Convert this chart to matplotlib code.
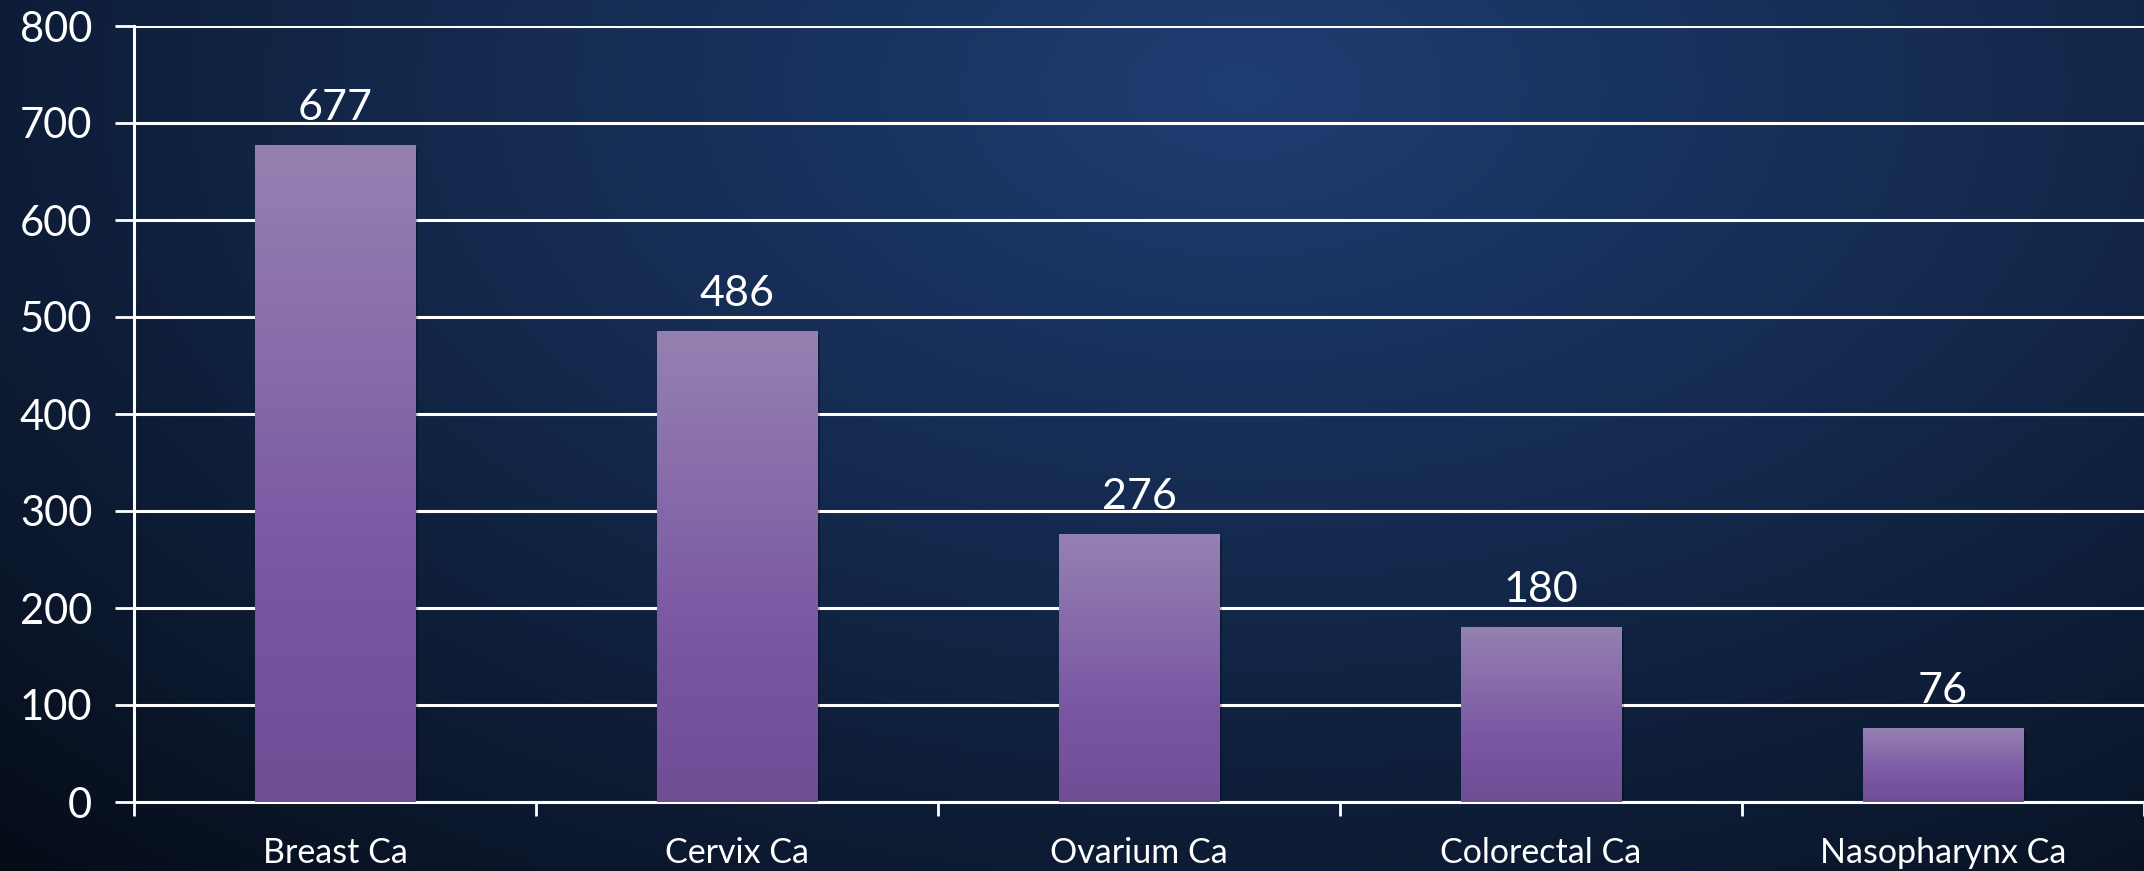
import matplotlib.pyplot as plt
import numpy as np
from matplotlib.colors import LinearSegmentedColormap

categories = ['Breast Ca', 'Cervix Ca', 'Ovarium Ca', 'Colorectal Ca', 'Nasopharynx Ca']
cases = [677, 486, 276, 180, 76]
y_ticks = [0, 100, 200, 300, 400, 500, 600, 700, 800]

plt.rcParams['font.family'] = ['Lato', 'DejaVu Sans']

W, H, DPI = 2144, 871, 100
fig = plt.figure(figsize=(W / DPI, H / DPI), dpi=DPI)

# background: dark navy with a broad lighter glow near the top middle
bg = fig.add_axes([0, 0, 1, 1], zorder=0)
bg.axis('off')
yy, xx = np.mgrid[0:1:300j, 0:1:700j]
d = np.sqrt(((xx - 0.58) / 0.85) ** 2 + ((yy - 0.1) / 1.25) ** 2)
d = np.clip(d, 0, 1)
dark = np.array([0x05, 0x0b, 0x16]) / 255
light = np.array([0x1e, 0x3d, 0x72]) / 255
t = (1 - d) ** 0.9
img = dark[None, None, :] * (1 - t[..., None]) + light[None, None, :] * t[..., None]
bg.imshow(img, extent=[0, 1, 0, 1], origin='upper', aspect='auto')
bg.set_xlim(0, 1)
bg.set_ylim(0, 1)

ax = fig.add_axes([134 / W, 1 - 802 / H, 1 - 134 / W, (802 - 26) / H], zorder=1)
ax.patch.set_alpha(0)

x = np.arange(len(categories))
width = 0.40
bar_cmap = LinearSegmentedColormap.from_list(
    'bar', [(0.0, '#9581b1'), (0.65, '#7a56a3'), (1.0, '#704e95')])
grad = np.linspace(0, 1, 256).reshape(-1, 1)

for i, v in enumerate(cases):
    # soft shadow
    ax.bar(x[i] + 0.006, v, width, bottom=-4, color='black', alpha=0.25, zorder=2)
    b = ax.bar(x[i], v, width, color='none', zorder=3)[0]
    im = ax.imshow(grad, cmap=bar_cmap, aspect='auto', zorder=3,
                   extent=[x[i] - width / 2, x[i] + width / 2, 0, v], origin='upper')
    im.set_clip_path(b)
    ax.annotate(str(v), (x[i], v), xytext=(0, 13), textcoords='offset points',
                ha='center', va='bottom', color='white', fontsize=31)

ax.set_xlim(-0.5, len(categories) - 0.5)
ax.set_ylim(0, 800)
ax.set_yticks(y_ticks)
ax.yaxis.grid(True, color='white', linewidth=2.2, zorder=1)
ax.set_axisbelow(True)

ax.set_xticks(x)
ax.set_xticklabels(categories)
ax.set_xticks(np.arange(-0.5, len(categories)), minor=True)
ax.tick_params(axis='x', which='major', length=0, pad=25, labelsize=24.5, labelcolor='white')
ax.tick_params(axis='x', which='minor', length=10, width=2, color='white', direction='out')
ax.tick_params(axis='y', length=14, width=2, color='white', labelsize=30,
               labelcolor='white', pad=16)

for s in ['top', 'right']:
    ax.spines[s].set_visible(False)
for s in ['left', 'bottom']:
    ax.spines[s].set_color('white')
    ax.spines[s].set_linewidth(2.2)

fig.savefig('out.png', dpi=DPI)
